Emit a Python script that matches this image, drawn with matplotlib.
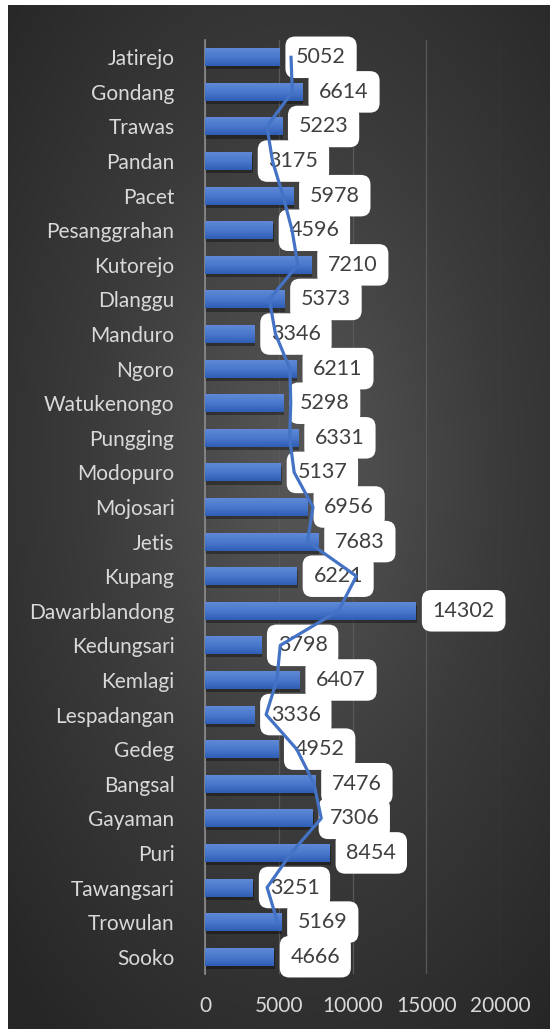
import numpy as np
import matplotlib.pyplot as plt
from matplotlib.colors import LinearSegmentedColormap

names = ["Sooko", "Trowulan", "Tawangsari", "Puri", "Gayaman", "Bangsal", "Gedeg",
         "Lespadangan", "Kemlagi", "Kedungsari", "Dawarblandong", "Kupang", "Jetis",
         "Mojosari", "Modopuro", "Pungging", "Watukenongo", "Ngoro", "Manduro",
         "Dlanggu", "Kutorejo", "Pesanggrahan", "Pacet", "Pandan", "Trawas",
         "Gondang", "Jatirejo"]
values = [4666, 5169, 3251, 8454, 7306, 7476, 4952, 3336, 6407, 3798, 14302, 6221,
          7683, 6956, 5137, 6331, 5298, 6211, 3346, 5373, 7210, 4596, 5978, 3175,
          5223, 6614, 5052]
xticks = [0, 5000, 10000, 15000, 20000]

W, H = 550, 1029
fig = plt.figure(figsize=(W / 100, H / 100), dpi=100, facecolor='white')

# radial background (white strip on top and left like the screenshot)
bg = fig.add_axes([8 / W, 0, 1 - 8 / W, 1 - 5 / H])
yy, xx = np.mgrid[0:200, 0:200]
r = np.sqrt(((xx - 105) / 150.0) ** 2 + ((yy - 90) / 140.0) ** 2)
bg_cmap = LinearSegmentedColormap.from_list('bg', ['#575757', '#3b3b3b', '#262626'])
bg.imshow(np.clip(r, 0, 1), cmap=bg_cmap, aspect='auto', extent=[0, 1, 0, 1],
          vmin=0, vmax=1, interpolation='bicubic')
bg.axis('off')

ax = fig.add_axes([205 / W, 1 - 974 / H, (500 - 205) / W, (974 - 40) / H])
ax.set_facecolor('none')

y = np.arange(len(names))
h = 0.52

# shadow under bars
ax.barh(y - 0.09, np.array(values) + 60, height=h, color='black', alpha=0.35,
        zorder=2, linewidth=0)
bars = ax.barh(y, values, height=h, color='#4472C4', zorder=3, linewidth=0)

bar_cmap = LinearSegmentedColormap.from_list('bar', ['#2e5db5', '#4a78cc', '#5f89d6'])
grad = np.linspace(0, 1, 64).reshape(-1, 1)
for b in bars:
    x0, y0 = b.get_x(), b.get_y()
    im = ax.imshow(grad, cmap=bar_cmap, aspect='auto', origin='lower',
                   extent=[x0, x0 + b.get_width(), y0, y0 + b.get_height()], zorder=3)
    im.set_clip_path(b)

# value labels
for yi, v in zip(y, values):
    ax.annotate(str(v), (v, yi), xytext=(12, 0), textcoords='offset points',
                ha='left', va='center', fontsize=15.5, color='#404040',
                family='Lato', zorder=4,
                bbox=dict(boxstyle='round,pad=0.5,rounding_size=0.45',
                          fc='white', ec='none'))

# 2-period moving average trendline
vals = np.array(values, dtype=float)
ma = (vals[1:] + vals[:-1]) / 2
ax.plot(ma, y[1:], color='#4472C4', linewidth=2.3, zorder=5, solid_joinstyle='round')

ax.set_xlim(0, 20000)
ax.set_ylim(-0.5, len(names) - 0.5)
ax.set_xticks(xticks)
ax.set_xticklabels([str(t) for t in xticks])
ax.set_yticks(y)
ax.set_yticklabels(names)
ax.tick_params(axis='both', length=0, colors='#d9d9d9', labelsize=15)
ax.tick_params(axis='y', pad=22)
ax.tick_params(axis='x', pad=16)
for lab in ax.get_xticklabels() + ax.get_yticklabels():
    lab.set_family('Lato')
ax.grid(axis='x', color='#595959', linewidth=0.9, zorder=1)
ax.set_axisbelow(True)
for s in ['top', 'right', 'bottom']:
    ax.spines[s].set_visible(False)
ax.spines['left'].set_color('#8c8c8c')
ax.spines['left'].set_linewidth(1.2)

fig.savefig('out.png', dpi=100, facecolor='white')
